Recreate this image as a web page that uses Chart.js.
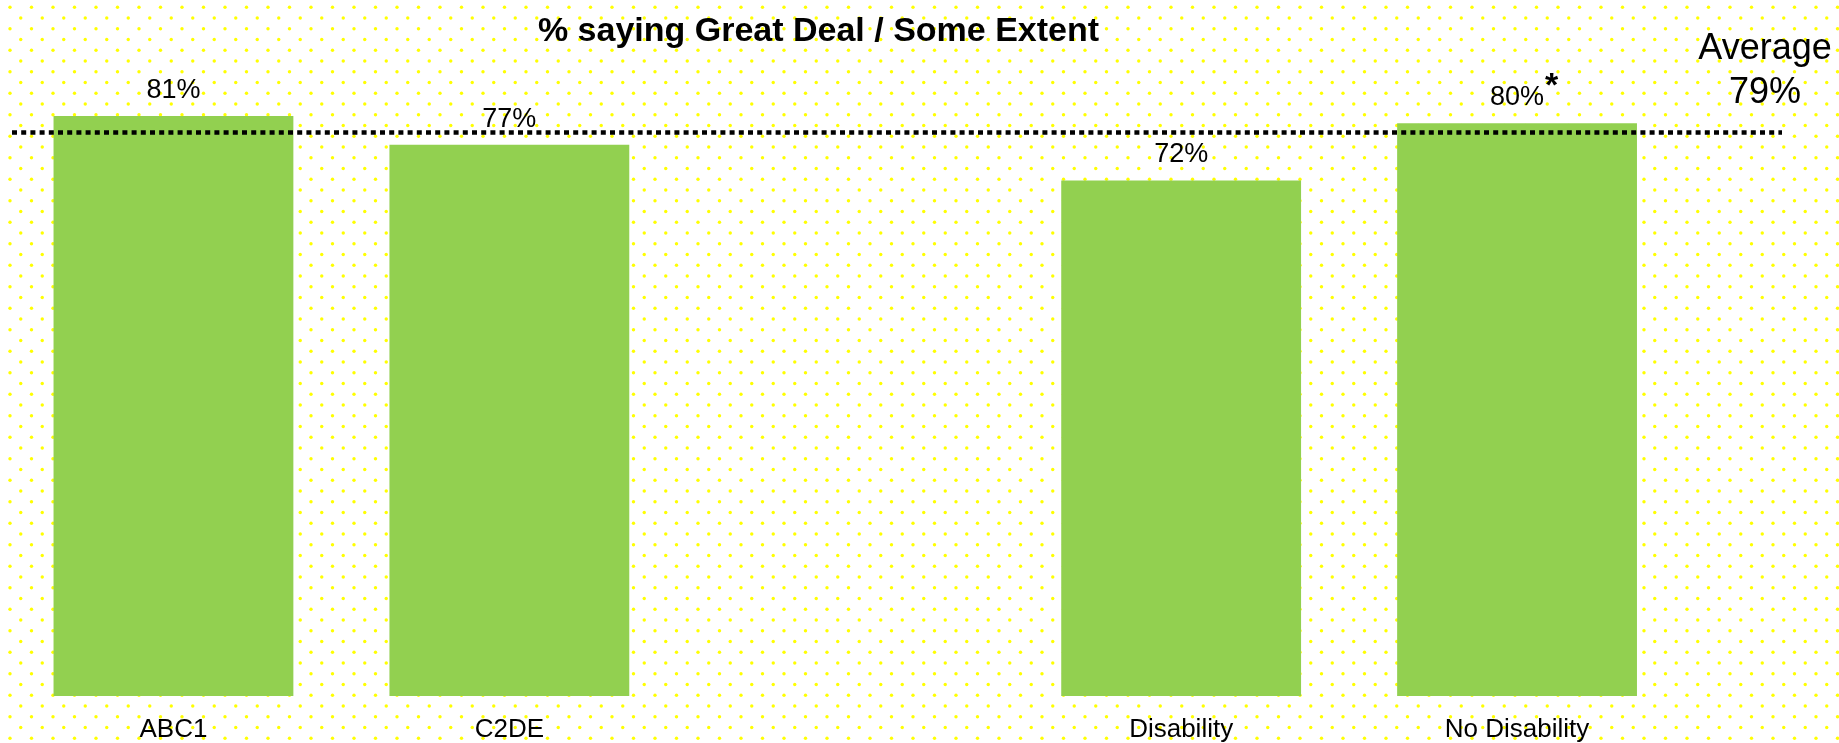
<!DOCTYPE html>
<html>
<head>
<meta charset="utf-8">
<script src="https://cdn.jsdelivr.net/npm/chart.js@4"></script>
<style>
  html, body { margin: 0; padding: 0; background: #ffffff; }
  #wrap { position: relative; width: 1839px; height: 743px; }
</style>
</head>
<body>
<div id="wrap"><canvas id="c"></canvas></div>
<script>
// ---- data ----
const categories = ['ABC1', 'C2DE', '', 'Disability', 'No Disability'];
const values = [81, 77, null, 72, 80];
const valueMarks = ['', '', '', '', '*'];
const averageValue = 78.7;
const averageLabel = 'Average';
const titleText = '% saying Great Deal / Some Extent';

const FONT = '"Liberation Sans", Arial, sans-serif';
const BAR_COLOR = '#92D050';
const Y_MAX = 90;

const dotBackground = {
  id: 'dotBackground',
  beforeDraw(chart) {
    const ctx = chart.ctx;
    const W = chart.width, H = chart.height;
    ctx.save();
    ctx.fillStyle = '#ffffff';
    ctx.fillRect(0, 0, W, H);
    ctx.fillStyle = '#ffff00';
    const p = 21.5, half = p / 2;
    for (let r = 0; 7.3 + r * half < H + 3; r++) {
      const y = 7.3 + r * half;
      const x0 = 10 + (r % 2) * half;
      for (let x = x0; x < W + 3; x += p) {
        ctx.beginPath();
        ctx.arc(x, y, 1.7, 0, Math.PI * 2);
        ctx.fill();
      }
    }
    ctx.restore();
  }
};

const overlay = {
  id: 'overlay',
  afterDatasetsDraw(chart) {
    const ctx = chart.ctx;
    const area = chart.chartArea;
    const yScale = chart.scales.y;
    const meta = chart.getDatasetMeta(0);
    ctx.save();
    // value labels
    meta.data.forEach((bar, i) => {
      const v = values[i];
      if (v === null || v === undefined) return;
      const txt = v + '%';
      ctx.font = '27px ' + FONT;
      ctx.fillStyle = '#000';
      ctx.textAlign = 'center';
      ctx.textBaseline = 'alphabetic';
      ctx.fillText(txt, bar.x, bar.y - 18);
      if (valueMarks[i]) {
        const w = ctx.measureText(txt).width;
        ctx.font = 'bold 34px ' + FONT;
        ctx.textAlign = 'left';
        ctx.fillText(valueMarks[i], bar.x + w / 2 + 1, bar.y - 27);
      }
    });
    // average dotted line
    const ay = yScale.getPixelForValue(averageValue);
    ctx.beginPath();
    ctx.setLineDash([5, 4.2]);
    ctx.lineWidth = 4.6;
    ctx.strokeStyle = '#000';
    ctx.moveTo(area.left + 6.5, ay);
    ctx.lineTo(area.right + 97, ay);
    ctx.stroke();
    ctx.setLineDash([]);
    // average text
    ctx.font = '36px ' + FONT;
    ctx.textAlign = 'center';
    ctx.textBaseline = 'alphabetic';
    ctx.fillStyle = '#000';
    const ax = area.right + 80;
    ctx.fillText(averageLabel, ax, 59);
    ctx.fillText(Math.round(averageValue) + '%', ax, 103);
    // title
    ctx.font = 'bold 34px ' + FONT;
    ctx.fillText(titleText, 818.5, 40.7);
    ctx.restore();
  }
};

const topPad = 696 - 7.16 * Y_MAX;

new Chart(document.getElementById('c'), {
  type: 'bar',
  data: {
    labels: categories,
    datasets: [{
      data: values,
      backgroundColor: BAR_COLOR,
      borderWidth: 0,
      barPercentage: 0.714,
      categoryPercentage: 1.0
    }]
  },
  options: {
    responsive: true,
    maintainAspectRatio: false,
    animation: false,
    devicePixelRatio: 1,
    layout: { padding: { left: 5.5, right: 154, top: topPad, bottom: 0 } },
    plugins: {
      legend: { display: false },
      title: { display: false },
      tooltip: { enabled: false }
    },
    scales: {
      x: {
        grid: { display: false, drawTicks: false },
        border: { display: false },
        ticks: {
          color: '#000',
          font: { size: 26, family: FONT },
          padding: 18,
          maxRotation: 0,
          autoSkip: false
        },
        afterFit(scale) { scale.height = 47; }
      },
      y: { display: false, min: 0, max: Y_MAX }
    }
  },
  plugins: [dotBackground, overlay]
});
</script>
</body>
</html>
